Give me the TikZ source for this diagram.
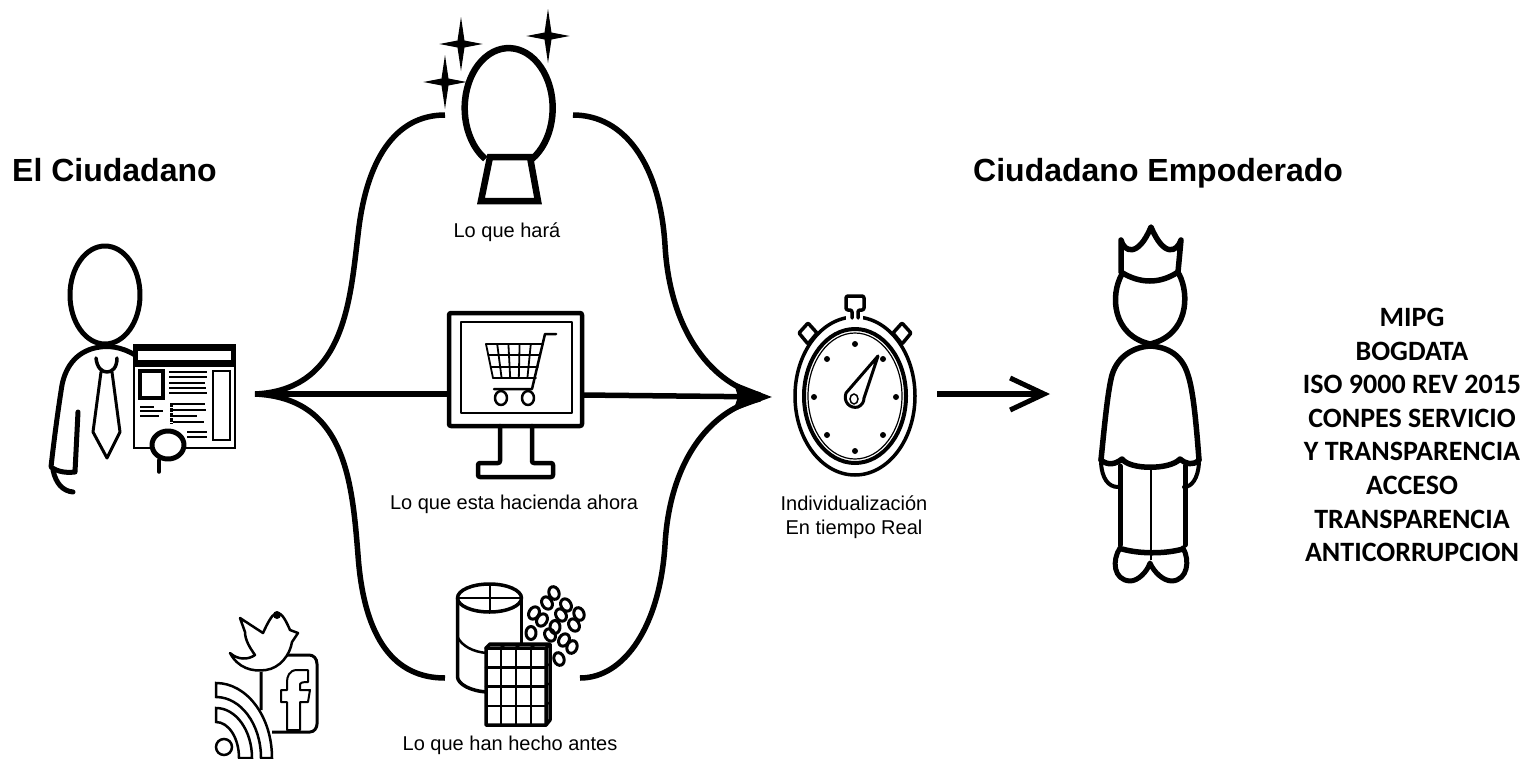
\documentclass[tikz,border=0pt]{standalone}
\usepackage{fontspec}
\setmainfont{Liberation Sans}
\newfontfamily\listfont{Carlito}
\usetikzlibrary{arrows.meta}
\tikzset{
  mainline/.style={line width=5.5pt},
  flowarrow/.style={line width=5.5pt,-{Straight Barb[length=34pt,width=32pt,line width=5pt]}},
  mergearrow/.style={line width=5.5pt,-{Stealth[length=38pt,width=28pt,inset=4pt]}},
  icon/.style={line width=5pt,line join=round,line cap=round},
  thinicon/.style={line width=2.5pt,line join=round,line cap=round},
  heading/.style={font=\fontsize{32}{38}\selectfont\bfseries,anchor=base west,inner sep=0pt},
  caption/.style={font=\fontsize{20}{24}\selectfont,align=center,inner sep=0pt},
  normlist/.style={font=\listfont\fontsize{28}{33.6}\selectfont\bfseries,align=center,inner sep=0pt},
  pics/spark/.style={code={\fill (0,-#1) -- (3.5,-3.5) -- (#1*0.8,0) -- (3.5,3.5) -- (0,#1) -- (-3.5,3.5) -- (-#1*0.8,0) -- (-3.5,-3.5) -- cycle;}}
}
\begin{document}
\begin{tikzpicture}[x=1pt,y=-1pt]
  \useasboundingbox (0,0) rectangle (1524,758);

  \coordinate (fork) at (255,394);
  \coordinate (orbl) at (445,115);
  \coordinate (orbr) at (573,115);
  \coordinate (scrl) at (449,394);
  \coordinate (scrr) at (582,395);
  \coordinate (stol) at (445,678);
  \coordinate (stor) at (580,678);
  \coordinate (watchin) at (772,397);
  \coordinate (watchout) at (937,394);
  \coordinate (kingin) at (1050,394);

  \draw[mainline] (fork) .. controls (345,390) and (350,300) .. (358,235) .. controls (366,160) and (395,115) .. (orbl);
  \draw[mainline] (orbr) .. controls (625,115) and (660,165) .. (665,245) .. controls (670,335) and (715,385) .. (760,395);
  \draw[mainline] (fork) .. controls (345,398) and (352,480) .. (358,555) .. controls (364,640) and (395,678) .. (stol);
  \draw[mainline] (stor) .. controls (625,678) and (660,625) .. (665,545) .. controls (670,455) and (715,408) .. (760,399);
  \draw[mainline] (fork) -- (scrl);
  \draw[mergearrow] (scrr) -- (watchin);
  \draw[flowarrow] (watchout) -- (kingin);

  \node[heading] (citizen) at (12,181) {El Ciudadano};
  \node[heading] (empowered) at (973,181) {Ciudadano Empoderado};
  \node[caption] (willdo) at (507,232) {Lo que hará};
  \node[caption] (doing) at (514,504) {Lo que esta hacienda ahora};
  \node[caption] (realtime) at (854,517) {Individualización\\ En tiempo Real};
  \node[caption] (done) at (510,745) {Lo que han hecho antes};
  \node[normlist] (norms) at (1412,435) {MIPG\\BOGDATA\\ISO 9000 REV 2015\\CONPES SERVICIO\\Y TRANSPARENCIA\\ACCESO\\TRANSPARENCIA\\ANTICORRUPCION};

  \draw[icon] (105,295) circle[x radius=35,y radius=49];
  \draw[icon] (135,355) .. controls (120,346) and (108,346) .. (100,347) .. controls (78,350) and (66,365) .. (62,385) .. controls (58,410) and (54,440) .. (51,467) .. controls (58,472) and (66,473) .. (75,472) -- (78,412);
  \draw[icon] (53,470) .. controls (56,484) and (63,491) .. (73,492);
  \draw[thinicon,line width=3.5pt] (96,358) .. controls (97,368) and (102,372) .. (107,372) .. controls (112,372) and (117,368) .. (117,358);
  \draw[thinicon,line width=3pt] (101,372) -- (93,432) -- (107,458) -- (120,432) -- (112,372);
  \fill[black] (134,345) rectangle (235,367);
  \fill[white] (138,351) rectangle (231,360);
  \draw[line width=2.5pt] (134,345) rectangle (235,448);
  \draw[line width=4pt] (140,371) rectangle (163,398);
  \draw[line width=2.5pt] (213,371) rectangle (230,440);
  \foreach \ly/\lb/\le in {372/169/207,377/169/207,383/169/205,388/169/206,393/169/207,404/173/205,410/173/206,416/173/197,422/173/204,432/187/207,437/187/207,407/140/154,411/140/163,416/140/159}
    \draw[line width=2pt] (\lb,\ly) -- (\le,\ly);
  \draw[line width=3pt,dash pattern=on 4pt off 1pt] (171,403) -- (171,424);
  \draw[icon,fill=white] (168,445) circle[x radius=16,y radius=14];
  \draw[icon,line width=3.5pt] (159,460) -- (159,472);

  \draw[icon,line width=6.5pt,line cap=butt] (532,159) arc[start angle=58,end angle=-238,x radius=44,y radius=60];
  \draw[icon,line width=6.5pt,miter limit=4,line join=miter] (490,157) -- (530,157) -- (538,201) -- (481,201) -- cycle;
  \pic at (461,44) {spark=27};
  \pic at (445,82) {spark=27};
  \pic at (548,36) {spark=27};

  \draw[icon,line width=4.5pt,fill=white,rounded corners=2pt] (449,313) rectangle (582,426);
  \draw[thinicon] (461,322) rectangle (572,413);
  \draw[icon,line width=4.5pt,rounded corners=2pt] (500,426) -- (500,463) -- (478,463) -- (478,477) -- (553,477) -- (553,463) -- (532,463) -- (532,426);
  \foreach \g in {0,1,2,3}
    \draw[thinicon,line width=1.8pt] (486+\g*2.33,344+\g*11.33) -- (542-\g*2,344+\g*11.33);
  \foreach \g in {0,...,4}
    \draw[thinicon,line width=1.8pt] (486+\g*11.2,344) -- (493+\g*8.6,378);
  \draw[thinicon] (556,334) -- (545,334) -- (532,389) -- (494,389);
  \draw[thinicon] (501,398) circle[x radius=6,y radius=7];
  \draw[thinicon] (528,398) circle[x radius=6,y radius=7];

  \draw[icon,line width=3.5pt] (489.5,598) circle[x radius=32,y radius=14];
  \draw[thinicon] (490,584) -- (490,612) (457,598) -- (522,598);
  \draw[icon,line width=3.5pt] (457.5,598) -- (457.5,677) .. controls (458,684) and (470,691) .. (487,692);
  \draw[icon,line width=3.5pt] (521.5,598) -- (521.5,645);
  \draw[thinicon] (457.5,637) .. controls (462,646) and (473,652) .. (487,653);
  \foreach \cx/\cy/\ca in {554/593/20,547/603/30,566/605/30,579/614/20,534/613/-30,542/620/-30,561/615/30,574/625/30,555/627/0,531/633/0,550/635/30,564/640/-30,572/647/-20,559/659/20}
    \draw[icon,line width=3pt] (\cx,\cy) circle[x radius=5,y radius=6.5,rotate=\ca];
  \draw[icon,line width=3.5pt,fill=white] (486,648) -- (490,644) -- (550,644) -- (550,720) -- (546,725) -- (486,725) -- cycle;
  \draw[icon,line width=3.5pt] (486,648) -- (546,648) -- (546,725) (546,648) -- (550,644);
  \foreach \g in {1,2,3} {
    \draw[thinicon] (486+\g*15,648) -- (486+\g*15,725);
    \draw[thinicon] (486+\g*15,648) -- (490+\g*15,644);
    \draw[thinicon] (486,648+\g*19.25) -- (546,648+\g*19.25);
    \draw[thinicon,line width=1.5pt] (546,648+\g*19.25) -- (550,644+\g*19.25);
  }

  \draw[icon,line width=3.5pt] (855,396) circle[x radius=60,y radius=79];
  \draw[icon,line width=4pt] (855,396) circle[x radius=51,y radius=67];
  \draw[line width=1.2pt] (855,396) circle[x radius=47,y radius=63];
  \foreach \dx/\dy in {855/344,855/451,814/397,896/397,827/359,883/359,827/435,883/435}
    \fill (\dx,\dy) circle[radius=3];
  \fill[white] (846,312) rectangle (863,322);
  \draw[icon,line width=3.5pt,rounded corners=2pt] (852,318) -- (852,310) -- (846,310) -- (846,296) -- (864,296) -- (864,310) -- (858,310) -- (858,318);
  \draw[icon,line width=3.5pt,rounded corners=1pt] (808,323) -- (817,333) -- (808,344) -- (799,333) -- cycle;
  \draw[icon,line width=3.5pt,rounded corners=1pt] (902,323) -- (911,333) -- (902,344) -- (893,333) -- cycle;
  \draw[thinicon,line width=3pt] (878,356) -- (846,393) .. controls (843,402) and (850,409) .. (858,407) .. controls (862,405) and (864,402) .. (864,398) -- cycle;
  \draw[line width=1.5pt] (854,399) circle[x radius=4,y radius=5];

  \draw[icon,line width=5.5pt] (1121,272) -- (1121,240) .. controls (1124,252) and (1138,258) .. (1151,227) .. controls (1164,258) and (1177,252) .. (1181,240) -- (1178,272) .. controls (1160,284) and (1140,284) .. (1121,272);
  \draw[icon,line width=5.5pt] (1122,274) .. controls (1110,295) and (1112,335) .. (1150,344) .. controls (1188,335) and (1190,295) .. (1179,274);
  \draw[icon,line width=5.5pt] (1101,460) .. controls (1105,420) and (1108,390) .. (1112,375) .. controls (1118,355) and (1135,347) .. (1150,346) .. controls (1168,347) and (1182,355) .. (1188,375) .. controls (1193,390) and (1196,420) .. (1199,460);
  \draw[icon,line width=5.5pt] (1101,460) .. controls (1108,466) and (1116,464) .. (1122,459) .. controls (1130,470) and (1170,470) .. (1180,459) .. controls (1186,464) and (1193,466) .. (1199,460);
  \draw[icon,line width=4pt] (1101,463) .. controls (1102,478) and (1108,487) .. (1118,487) (1199,463) .. controls (1198,478) and (1192,487) .. (1184,487);
  \draw[icon,line width=5pt] (1120,466) -- (1120,545) (1185,466) -- (1185,545);
  \draw[line width=2.5pt] (1151,470) -- (1151,560);
  \draw[icon,line width=5.5pt] (1122,549) .. controls (1140,554) and (1165,554) .. (1183,549);
  \draw[icon,line width=5pt] (1120,548) .. controls (1112,560) and (1113,580) .. (1130,581) .. controls (1138,581) and (1147,572) .. (1150,563) .. controls (1154,572) and (1163,581) .. (1172,581) .. controls (1188,580) and (1190,560) .. (1183,548);

  \draw[line width=3pt] (261,672) -- (261,710) (272,732) -- (310,732) .. controls (314,732) and (317,728) .. (317,724) -- (317,664) .. controls (317,658) and (313,655) .. (309,655) -- (285,655);
  \draw[line width=2pt,line join=round] (308,670) -- (297,670) .. controls (289,670) and (287,677) .. (287,682) -- (287,690) -- (281,690) -- (281,702) -- (287,702) -- (287,730) -- (300,730) -- (300,702) -- (308,702) -- (310,690) -- (300,690) -- (300,684) .. controls (300,683) and (302,682) .. (308,682) -- cycle;
  \draw[line width=2.5pt,line join=round,fill=white] (240,618) -- (263,633) .. controls (268,622) and (272,615) .. (275,614) .. controls (280,611) and (284,616) .. (290,630) -- (298,633) -- (292,642) .. controls (290,655) and (280,668) .. (266,670) .. controls (252,672) and (238,668) .. (230,653) .. controls (238,660) and (248,660) .. (255,655) .. controls (250,648) and (245,640) .. (245,632) -- cycle;
  \fill (277,615) circle[radius=4];
  \draw[line width=2.5pt] (224,747) circle[radius=8];
  \begin{scope}
    \clip (200,670) rectangle (300,758);
    \draw[line width=2.5pt,fill=white] (216,683) arc[start angle=-90,end angle=0,x radius=56,y radius=75] -- ++(-11,0) arc[start angle=0,end angle=-90,x radius=45,y radius=61] -- cycle;
    \draw[line width=2.5pt,fill=white] (216,708) arc[start angle=-90,end angle=0,x radius=36,y radius=50] -- ++(-13,0) arc[start angle=0,end angle=-90,x radius=23,y radius=36] -- cycle;
  \end{scope}
\end{tikzpicture}
\end{document}
